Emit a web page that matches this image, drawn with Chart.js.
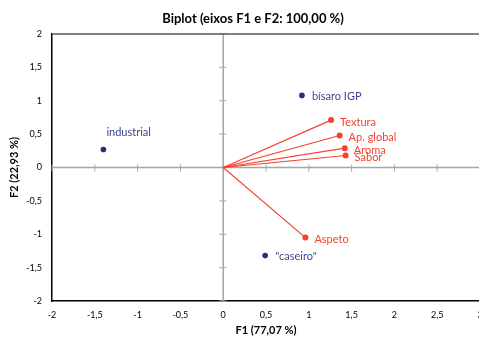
<!DOCTYPE html>
<html lang="pt">
<head>
    <meta charset="UTF-8">
    <title>Biplot</title>
    <script src="https://cdn.jsdelivr.net/npm/chart.js"></script>
    <style>
        html, body { margin: 0; padding: 0; overflow: hidden; background: #fff; }
        #wrap { width: 479px; height: 337px; overflow: hidden; }
    </style>
</head>
<body>
    <div id="wrap"><canvas id="biplot" width="506" height="337"></canvas></div>

    <script>
        // observations (blue points)
        const obsNames = ['industrial', 'bísaro IGP', '"caseiro"'];
        const obsF1 = [-1.40, 0.92, 0.49];
        const obsF2 = [0.27, 1.08, -1.32];

        // variables (red vectors from the origin)
        const varNames = ['Textura', 'Ap. global', 'Aroma', 'Sabor', 'Aspeto'];
        const varF1 = [1.26, 1.36, 1.42, 1.43, 0.96];
        const varF2 = [0.71, 0.48, 0.29, 0.18, -1.05];

        const chartTitle = 'Biplot (eixos F1 e F2: 100,00 %)';

        const blue = '#233070';
        const blueText = '#3a4790';
        const red = '#f5412d';
        const font = 'Lato, "Liberation Sans", sans-serif';
        const comma = v => String(v).replace('.', ',');

        const datasets = [];
        varNames.forEach((name, i) => {
            datasets.push({
                label: name,
                data: [{ x: 0, y: 0 }, { x: varF1[i], y: varF2[i] }],
                showLine: true,
                borderColor: red,
                borderWidth: 1.2,
                pointRadius: [0, 3],
                pointBackgroundColor: red,
                pointBorderWidth: 0,
                kind: 'var'
            });
        });
        datasets.push({
            label: 'obs',
            data: obsF1.map((x, i) => ({ x: x, y: obsF2[i] })),
            pointRadius: 2.8,
            pointBackgroundColor: blue,
            pointBorderWidth: 0,
            kind: 'obs'
        });

        // zero axes with small cross ticks, top border
        const axesPlugin = {
            id: 'zeroAxes',
            beforeDatasetsDraw(chart) {
                const { ctx, chartArea, scales } = chart;
                const x0 = scales.x.getPixelForValue(0);
                const y0 = scales.y.getPixelForValue(0);
                ctx.save();
                ctx.strokeStyle = '#a6a6a6';
                ctx.lineWidth = 1.5;
                ctx.beginPath();
                ctx.moveTo(x0, chartArea.top); ctx.lineTo(x0, chartArea.bottom);
                ctx.moveTo(chartArea.left, y0); ctx.lineTo(chartArea.right, y0);
                ctx.stroke();
                ctx.lineWidth = 1;
                ctx.beginPath();
                scales.x.ticks.forEach(t => {
                    const px = scales.x.getPixelForValue(t.value);
                    ctx.moveTo(px, y0 - 3); ctx.lineTo(px, y0 + 4);
                });
                scales.y.ticks.forEach(t => {
                    const py = scales.y.getPixelForValue(t.value);
                    ctx.moveTo(x0 - 4, py); ctx.lineTo(x0 + 3, py);
                });
                ctx.stroke();
                ctx.strokeStyle = '#595959';
                ctx.lineWidth = 1.5;
                ctx.beginPath();
                ctx.moveTo(chartArea.left, chartArea.top); ctx.lineTo(chartArea.right, chartArea.top);
                ctx.stroke();
                ctx.restore();
            }
        };

        // title centred on the whole canvas, plus point labels
        const labelPlugin = {
            id: 'pointLabels',
            afterDraw(chart) {
                const { ctx } = chart;
                ctx.save();
                ctx.fillStyle = '#000';
                ctx.font = 'bold 13px ' + font;
                ctx.textAlign = 'center';
                ctx.textBaseline = 'middle';
                ctx.fillText(chartTitle, chart.width / 2, 19);

                ctx.font = '11px ' + font;
                ctx.textAlign = 'left';
                chart.data.datasets.forEach((ds, di) => {
                    const meta = chart.getDatasetMeta(di);
                    if (ds.kind === 'var') {
                        const p = meta.data[1];
                        ctx.fillStyle = red;
                        ctx.fillText(ds.label, p.x + 9, p.y + 2);
                    } else {
                        meta.data.forEach((p, i) => {
                            ctx.fillStyle = blueText;
                            if (obsNames[i] === 'industrial') {
                                ctx.fillText(obsNames[i], p.x + 3, p.y - 17);
                            } else {
                                ctx.fillText(obsNames[i], p.x + 10, p.y + 1);
                            }
                        });
                    }
                });
                ctx.restore();
            }
        };

        new Chart(document.getElementById('biplot').getContext('2d'), {
            type: 'scatter',
            data: { datasets: datasets },
            options: {
                responsive: false,
                animation: false,
                devicePixelRatio: 1,
                layout: { padding: { top: 34, right: 26, bottom: 0, left: 8 } },
                plugins: {
                    legend: { display: false },
                    tooltip: { enabled: false },
                    title: { display: false }
                },
                scales: {
                    x: {
                        type: 'linear',
                        min: -2, max: 3,
                        grid: { display: false, drawTicks: false },
                        border: { display: true, color: '#000', width: 1.5 },
                        ticks: {
                            stepSize: 0.5,
                            color: '#000',
                            font: { family: font, size: 9 },
                            padding: 9,
                            callback: v => comma(v)
                        },
                        title: {
                            display: true,
                            text: 'F1 (77,07 %)',
                            color: '#000',
                            font: { family: font, size: 11, weight: 'bold' },
                            padding: { top: -6, bottom: 0 }
                        }
                    },
                    y: {
                        type: 'linear',
                        min: -2, max: 2,
                        grid: { display: false, drawTicks: false },
                        border: { display: true, color: '#000', width: 1.5 },
                        ticks: {
                            stepSize: 0.5,
                            color: '#000',
                            font: { family: font, size: 9 },
                            padding: 10,
                            callback: v => comma(v)
                        },
                        title: {
                            display: true,
                            text: 'F2 (22,93 %)',
                            color: '#000',
                            font: { family: font, size: 11, weight: 'bold' },
                            padding: { top: 0, bottom: -5 }
                        }
                    }
                }
            },
            plugins: [axesPlugin, labelPlugin]
        });
    </script>
</body>
</html>
